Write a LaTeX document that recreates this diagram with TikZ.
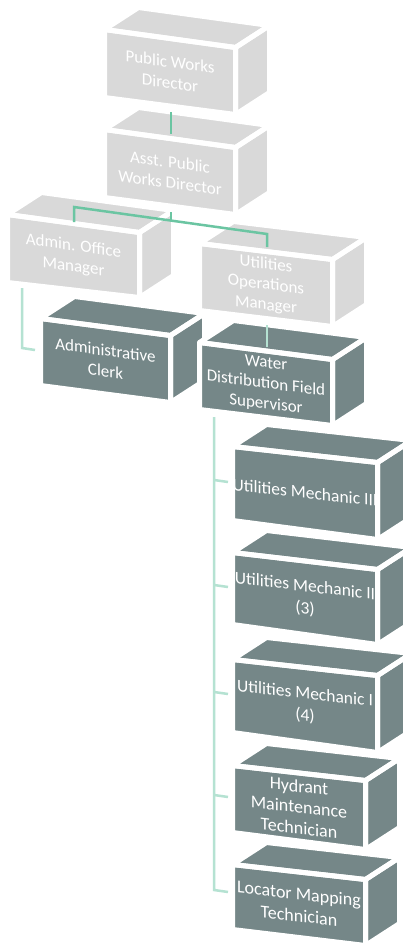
\documentclass[tikz,border=0pt]{standalone}
\usepackage{fontspec}
\setmainfont{Carlito}
\definecolor{lightbox}{HTML}{D9D9D9}
\definecolor{darkbox}{HTML}{758788}
\definecolor{linkdark}{HTML}{6BC5A2}
\definecolor{linkpale}{HTML}{B5E2D2}
\def\boxfontsize{17}
\def\boxlineskip{21}
\tikzset{
  gapline/.style={draw=white,line width=5pt,line join=round},
  boxtext/.style={text=white,align=center,inner sep=0pt,font=\fontsize{\boxfontsize}{\boxlineskip}\selectfont},
  linkA/.style={draw=linkdark,line width=2.5pt},
  linkB/.style={draw=linkpale,line width=2.5pt},
}
% #1 name, #2 fill, #3 xl, #4 ytl, #5 xr, #6 ytr, #7 hl, #8 hr, #9 text
\newcommand\obox[9]{%
  \pgfmathsetmacro\oslope{-(#6-#4)/(#5-#3)}%
  \pgfmathsetmacro\ocx{(#3+#5)/2}%
  \pgfmathsetmacro\ocy{(#4+#6)/2+(#7+#8)/4}%
  \coordinate (#1-A) at (#3,#4);
  \coordinate (#1-B) at (#5,#6);
  \coordinate (#1-C) at (#5,{#6+#8});
  \coordinate (#1-D) at (#3,{#4+#7});
  \coordinate (#1-Ab) at ({#3+34},{#4-22});
  \coordinate (#1-Bb) at ({#5+34},{#6-22});
  \coordinate (#1-Cb) at ({#5+34},{#6+#8-22});
  \fill[#2] (#1-A) -- (#1-B) -- (#1-C) -- (#1-D) -- cycle;
  \fill[#2] (#1-A) -- (#1-B) -- (#1-Bb) -- (#1-Ab) -- cycle;
  \fill[#2] (#1-B) -- (#1-Bb) -- (#1-Cb) -- (#1-C) -- cycle;
  \begin{scope}
    \clip (#1-A) -- (#1-B) -- (#1-C) -- (#1-D) -- cycle;
    \node[boxtext,yslant=\oslope] (#1) at (\ocx,\ocy) {#9};
  \end{scope}
  \draw[gapline] (#1-A) -- (#1-B) -- (#1-C) -- (#1-D) -- cycle;
  \draw[gapline] (#1-A) -- (#1-B) -- (#1-Bb) -- (#1-Ab) -- cycle;
  \draw[gapline] (#1-B) -- (#1-Bb) -- (#1-Cb) -- (#1-C) -- cycle;
}
\begin{document}
\begin{tikzpicture}[x=1pt,y=-1pt]
\useasboundingbox (0,0) rectangle (403,945);
\clip (0,0) rectangle (403,945);
\fill[white] (0,0) rectangle (403,945);

\obox{pwd}{lightbox}{104.5}{29.5}{235.5}{47.5}{68}{67}{Public Works\\Director}
\obox{asst}{lightbox}{104.5}{129.5}{235.5}{147.5}{68}{67}{Asst. Public\\Works Director}
\obox{admin}{lightbox}{7.5}{214.5}{139.5}{232.5}{68}{65}{Admin. Office\\Manager}
\def\boxlineskip{20.5}
\obox{util}{lightbox}{199.5}{243.5}{332.5}{259.5}{67}{67}{Utilities\\Operations\\Manager}
\def\boxlineskip{21}
\obox{clerk}{darkbox}{40.5}{318.5}{170.5}{335.5}{67}{67}{Administrative\\Clerk}
\def\boxlineskip{20.5}
\obox{water}{darkbox}{199.5}{342.5}{332.5}{359.5}{67}{66}{Water\\Distribution Field\\Supervisor}
\def\boxfontsize{17.5}
\def\boxlineskip{22}
\obox{mthree}{darkbox}{232.5}{446.5}{377.5}{462.5}{74}{77}{Utilities Mechanic III}
\obox{mtwo}{darkbox}{232.5}{552.5}{377.5}{569.5}{72}{75}{Utilities Mechanic II\\(3)}
\obox{mone}{darkbox}{232.5}{659.5}{377.5}{675.5}{73}{77}{Utilities Mechanic I\\(4)}
\def\boxfontsize{18}
\def\boxlineskip{21}
\obox{hyd}{darkbox}{232.5}{765.5}{365.5}{780.5}{67}{69}{Hydrant\\Maintenance\\Technician}
\def\boxlineskip{22}
\obox{loc}{darkbox}{232.5}{864.5}{365.5}{879.5}{65}{66}{Locator Mapping\\Technician}

% connector points
\coordinate (pwd-out) at (171,112);
\coordinate (asst-in) at (171,134);
\coordinate (asst-out) at (171,212);
\coordinate (asst-mid) at (171,220.6);
\coordinate (admin-in) at (74,222);
\coordinate (admin-turn) at (74,207);
\coordinate (util-turn) at (267,234);
\coordinate (util-in) at (267,247);
\coordinate (admin-out) at (22,288);
\coordinate (admin-turn2) at (22,348);
\coordinate (clerk-in) at (35,350);
\coordinate (util-out) at (267,325);
\coordinate (water-in) at (267,347);
\coordinate (water-out) at (214,417);
\coordinate (trunk-3) at (214,480);
\coordinate (trunk-2) at (214,585);
\coordinate (trunk-1) at (214,692);
\coordinate (trunk-h) at (214,795);
\coordinate (trunk-l) at (214,890);
\coordinate (mthree-in) at (228,482);
\coordinate (mtwo-in) at (228,587);
\coordinate (mone-in) at (228,694);
\coordinate (hyd-in) at (228,797);
\coordinate (loc-in) at (228,892);

\draw[linkA] (pwd-out) -- (asst-in);
\draw[linkA] (asst-out) -- (asst-mid);
\draw[linkA,line join=miter] (admin-in) -- (admin-turn) -- (util-turn) -- (util-in);
\draw[linkB,line join=miter] (admin-out) -- (admin-turn2) -- (clerk-in);
\draw[linkB] (util-out) -- (water-in);
\draw[linkB,line join=miter] (water-out) -- (trunk-l) -- (loc-in);
\draw[linkB] (trunk-3) -- (mthree-in);
\draw[linkB] (trunk-2) -- (mtwo-in);
\draw[linkB] (trunk-1) -- (mone-in);
\draw[linkB] (trunk-h) -- (hyd-in);
\end{tikzpicture}
\end{document}
